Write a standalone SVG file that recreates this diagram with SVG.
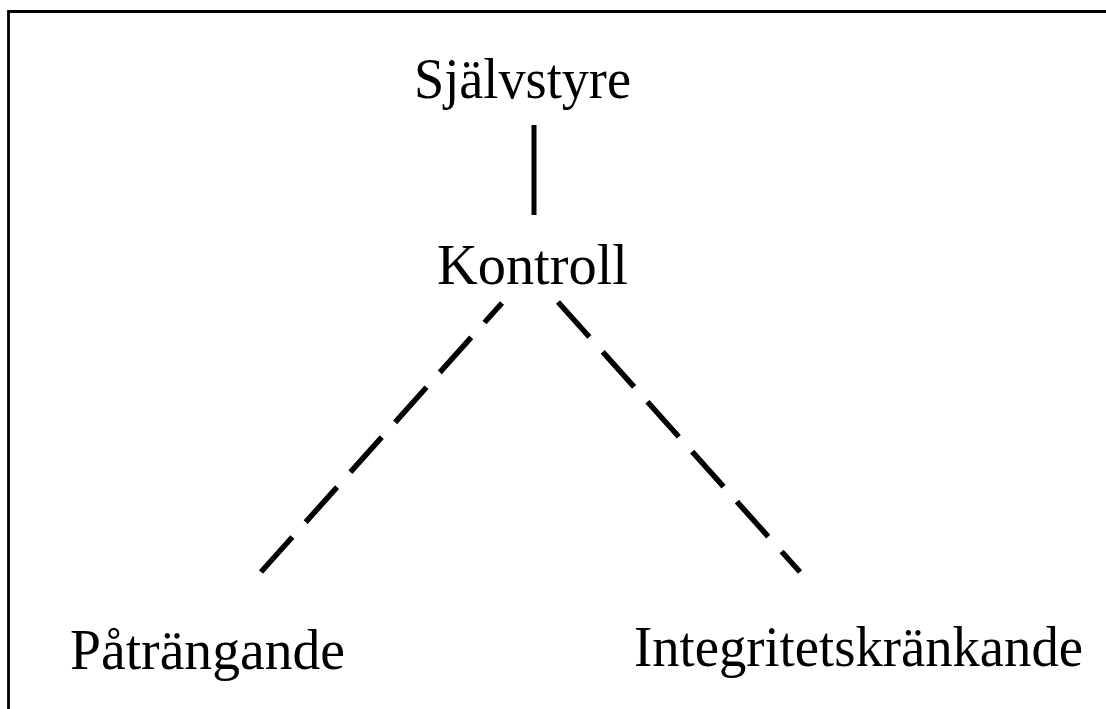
<svg xmlns="http://www.w3.org/2000/svg" width="1106" height="709" viewBox="0 0 1106 709">
<style>
.t{font-family:"Liberation Serif","Times New Roman",serif;font-size:56px;fill:#000}
.solid{stroke:#000;stroke-width:5;fill:none}
.dash{stroke:#000;stroke-width:5.5;fill:none;stroke-dasharray:47 20}
</style>
<rect width="1106" height="709" fill="#fff"/>
<path d="M8.5 709 V11.5 H1106" fill="none" stroke="#000" stroke-width="2.8"/>
<g id="connectors">
<line class="solid" x1="534" y1="125" x2="534" y2="215"/>
<line class="dash" x1="261" y1="572" x2="502" y2="303"/>
<line class="dash" x1="558" y1="302" x2="800" y2="572"/>
</g>
<g id="sjalvstyre"><text class="t" x="414" y="98" textLength="217" lengthAdjust="spacingAndGlyphs">Självstyre</text></g>
<g id="kontroll"><text class="t" x="437" y="284" textLength="191" lengthAdjust="spacingAndGlyphs">Kontroll</text></g>
<g id="patrangande"><text class="t" x="70" y="669" textLength="275" lengthAdjust="spacingAndGlyphs">Påträngande</text></g>
<g id="integritetskrankande"><text class="t" x="634" y="666" textLength="449" lengthAdjust="spacingAndGlyphs">Integritetskränkande</text></g>
</svg>
